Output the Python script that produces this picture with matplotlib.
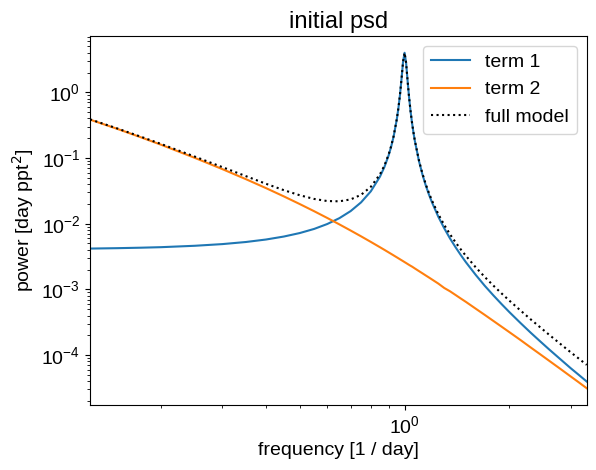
import matplotlib
matplotlib.use("Agg")
import matplotlib.pyplot as plt

plt.rcParams["font.family"] = ["Liberation Sans", "DejaVu Sans"]
plt.rcParams["font.size"] = 14

# frequency [1 / day]
freq = [0.125, 0.15, 0.175, 0.2, 0.25, 0.3, 0.35, 0.4, 0.45, 0.5, 0.55, 0.6,
        0.65, 0.7, 0.75, 0.8, 0.85, 0.875, 0.9, 0.915, 0.93, 0.95, 0.96, 0.97,
        0.98, 0.99, 1.0, 1.01, 1.02, 1.03, 1.04, 1.05, 1.06, 1.07, 1.1, 1.125,
        1.15, 1.175, 1.2, 1.25, 1.3, 1.35, 1.4, 1.45, 1.5, 1.6, 1.7, 1.8, 1.9,
        2.0, 2.15, 2.3, 2.45, 2.6, 2.8, 3.0, 3.15, 3.333]

term1 = [0.00418, 0.00424, 0.00431, 0.00439, 0.00461, 0.00489, 0.00526,
         0.00574, 0.00637, 0.0072, 0.00832, 0.00989, 0.01214, 0.01554, 0.0211,
         0.0311, 0.0521, 0.0727, 0.1096, 0.1481, 0.2111, 0.3886, 0.572, 0.911,
         1.593, 2.914, 3.99, 2.815, 1.507, 0.846, 0.522, 0.348, 0.2467, 0.183,
         0.0894, 0.0564, 0.0384, 0.0277, 0.0208, 0.01274, 0.0085, 0.00597,
         0.0044, 0.00333, 0.00259, 0.001664, 0.00113, 0.000807, 0.000595,
         0.00045, 0.000309, 0.00022, 0.000162, 0.000122, 8.66e-5, 6.3e-5,
         5.09e-5, 3.96e-5]

term2 = [0.3836, 0.2764, 0.2064, 0.159, 0.1003, 0.0676, 0.0477, 0.0348,
         0.02605, 0.0199, 0.01548, 0.01221, 0.00975, 0.00787, 0.00642,
         0.00528, 0.00438, 0.004, 0.003657, 0.00347, 0.003293, 0.003075,
         0.002972, 0.002874, 0.00278, 0.00269, 0.002602, 0.00252, 0.002438,
         0.002361, 0.002289, 0.002225, 0.002154, 0.002084, 0.001896, 0.001758,
         0.00163, 0.001516, 0.00141, 0.001225, 0.00105, 0.000936, 0.000823,
         0.000726, 0.000645, 0.000509, 0.000408, 0.00033, 0.00027, 0.000223,
         0.00017, 0.000131, 0.000103, 8.2e-5, 6.17e-5, 4.72e-5, 3.91e-5,
         3.13e-5]

full_model = [0.3878, 0.2806, 0.2107, 0.1634, 0.1049, 0.0725, 0.053, 0.0405,
              0.0324, 0.0271, 0.0238, 0.0221, 0.0219, 0.0234, 0.0275, 0.0364,
              0.0565, 0.0767, 0.1133, 0.1516, 0.2144, 0.3917, 0.575, 0.914,
              1.596, 2.917, 3.993, 2.818, 1.509, 0.848, 0.524, 0.35, 0.2489,
              0.1851, 0.0913, 0.0582, 0.04, 0.0292, 0.0222, 0.01397, 0.00955,
              0.00691, 0.00522, 0.00406, 0.00324, 0.00217, 0.00154, 0.001137,
              0.000865, 0.000673, 0.000479, 0.000351, 0.000265, 0.000204,
              0.000148, 0.00011, 9.0e-5, 7.09e-5]

fig = plt.figure(figsize=(5.96, 4.70), dpi=100)
ax = fig.add_axes([90 / 596, 1 - 405 / 470, (586.7 - 90) / 596, (405 - 36) / 470])

ax.loglog(freq, term1, label="term 1", lw=1.5)
ax.loglog(freq, term2, label="term 2", lw=1.5)
ax.loglog(freq, full_model, ":k", label="full model", lw=1.5)
ax.set_xlim(min(freq), max(freq))
ax.legend(loc="upper right")
ax.set_xlabel("frequency [1 / day]")
ax.set_ylabel("power [day ppt$^2$]")
ax.set_title("initial psd", fontsize=17)

fig.savefig("out.png", dpi=100)
